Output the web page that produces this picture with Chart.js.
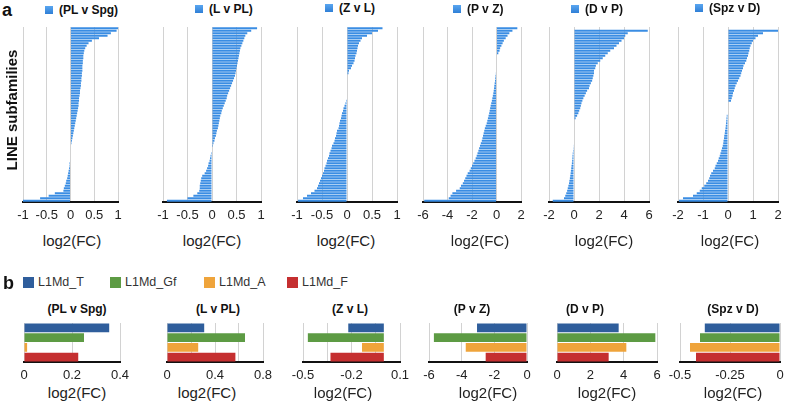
<!DOCTYPE html>
<html>
<head>
<meta charset="utf-8">
<script src="https://cdn.jsdelivr.net/npm/chart.js@4/dist/chart.umd.min.js"></script>
<style>
  html, body { margin:0; padding:0; background:#fff; width:785px; height:403px; overflow:hidden; }
  body { position:relative; font-family:'Liberation Sans', Arial, Helvetica, sans-serif; color:#222; }
  canvas { position:absolute; }
  .t { position:absolute; white-space:nowrap; }
  .sq { position:absolute; }
</style>
</head>
<body>
<script>
// ---------------- DATA ----------------
// Panel a: LINE subfamilies, log2(FC), sorted (70 subfamilies each)
const pLvSpg = [1.0,0.97,0.85,0.78,0.6,0.45,0.38,0.34,0.31,0.29,
  0.28,0.27,0.27,0.26,0.26,0.25,0.25,0.25,0.24,0.24,
  0.23,0.23,0.22,0.22,0.21,0.2,0.2,0.19,0.18,0.18,
  0.17,0.17,0.16,0.15,0.14,0.13,0.12,0.11,0.1,0.09,
  0.08,0.07,0.06,0.05,0.04,0.03,0.02,
  0,0,0,0,0,0,
  -0.01,-0.02,-0.02,-0.03,-0.04,-0.05,-0.06,-0.07,-0.09,-0.1,-0.12,-0.14,-0.15,-0.33,-0.46,-0.64,-1.0];
const pLvPL = [0.92,0.8,0.72,0.68,0.66,0.64,0.62,0.6,0.58,0.57,
  0.56,0.55,0.54,0.53,0.52,0.51,0.5,0.49,0.48,0.47,
  0.45,0.43,0.41,0.39,0.37,0.35,0.33,0.31,0.3,0.28,
  0.26,0.24,0.22,0.2,0.19,0.17,0.16,0.15,0.14,0.13,
  0.12,0.1,0.09,0.08,0.06,0.05,0.03,0.02,
  0,0,
  -0.02,-0.03,-0.04,-0.05,-0.07,-0.08,-0.1,-0.12,-0.15,-0.2,
  -0.22,-0.23,-0.24,-0.25,-0.25,-0.26,-0.3,-0.38,-0.5,-0.92];
const pZvL = [0.71,0.62,0.5,0.4,0.3,0.27,0.24,0.22,0.21,0.2,
  0.19,0.17,0.16,0.15,0.13,0.1,0.08,0.04,0.03,
  0,0,0,0,0,0,0,0,0,
  -0.01,-0.02,-0.03,-0.05,-0.07,-0.08,-0.1,-0.11,-0.12,-0.14,
  -0.15,-0.16,-0.17,-0.2,-0.21,-0.22,-0.24,-0.25,-0.27,-0.3,
  -0.31,-0.33,-0.35,-0.36,-0.38,-0.4,-0.41,-0.43,-0.45,-0.46,
  -0.48,-0.5,-0.52,-0.54,-0.56,-0.58,-0.6,-0.65,-0.72,-0.8,-0.88,-0.98];
const pPvZ = [1.7,1.3,1.05,0.9,0.75,0.6,0.5,0.4,0.3,0.25,0.15,
  0,0,0,0,0,0,0,
  -0.05,-0.08,-0.1,-0.12,-0.15,-0.18,-0.2,-0.23,-0.26,-0.3,
  -0.34,-0.38,-0.43,-0.48,-0.52,-0.56,-0.6,-0.65,-0.7,-0.75,
  -0.8,-0.88,-0.95,-1.0,-1.05,-1.1,-1.15,-1.2,-1.28,-1.35,
  -1.42,-1.48,-1.55,-1.62,-1.7,-1.8,-1.9,-2.0,-2.1,-2.2,
  -2.35,-2.45,-2.55,-2.65,-2.75,-2.9,-3.0,-3.3,-3.6,-3.75,-3.9,-5.9];
const pDvP = [0,
  5.9,4.3,4.1,4.0,3.8,3.6,3.4,3.2,2.9,2.7,
  2.5,2.3,2.1,1.9,1.75,1.7,1.6,1.6,1.55,1.5,
  1.45,1.35,1.25,1.2,1.05,0.95,0.85,0.75,0.67,0.6,
  0.55,0.5,0.42,0.35,0.25,0.13,
  0,0,0,0,0,0,0,0,0,0,
  -0.05,-0.06,-0.08,-0.1,-0.12,-0.13,-0.15,-0.17,-0.2,-0.22,
  -0.25,-0.27,-0.3,-0.33,-0.37,-0.4,-0.45,-0.5,-0.55,-0.62,-0.7,-0.8,-1.7];
const pSpzvD = [0,
  2.0,1.4,1.2,1.1,1.0,0.95,0.9,0.87,0.85,0.82,
  0.8,0.76,0.73,0.68,0.62,0.6,0.56,0.53,0.5,0.45,
  0.4,0.35,0.3,0.27,0.24,0.2,0.18,0.15,0.12,
  0,0,0,0,0,
  -0.05,-0.06,-0.07,-0.08,-0.09,-0.1,-0.12,-0.13,-0.15,-0.16,
  -0.18,-0.19,-0.21,-0.24,-0.27,-0.3,-0.33,-0.37,-0.4,-0.45,
  -0.5,-0.53,-0.6,-0.67,-0.72,-0.75,-0.8,-0.87,-0.95,-1.05,
  -1.13,-1.25,-1.4,-1.8,-1.96];

const comparisons = ['(PL v Spg)','(L v PL)','(Z v L)','(P v Z)','(D v P)','(Spz v D)'];

// Panel b: L1Md subfamilies
const l1Families = ['L1Md_T','L1Md_Gf','L1Md_A','L1Md_F'];
const l1Colors = ['#2f5e9c','#5d9b44','#efa43b','#c52f30'];
const bPLvSpg = [0.355, 0.25, 0.013, 0.226];
const bLvPL   = [0.31, 0.65, 0.26, 0.57];
const bZvL    = [-0.22, -0.47, -0.135, -0.33];
const bPvZ    = [-3.06, -5.7, -3.75, -2.53];
const bDvP    = [3.7, 5.9, 4.16, 3.1];
const bSpzvD  = [-0.376, -0.40, -0.45, -0.42];

// Axis settings (min, max, step)
const topAxes = [[-1,1,0.5],[-1,1,0.5],[-1,1,0.5],[-6,2,2],[-2,6,2],[-2,2,1]];
const botAxes = [[0,0.4,0.2,false],[0,0.8,0.2,true],[-0.5,0.1,0.15,true],[-6,0,2,false],[0,6,2,false],[-0.5,0,0.25,false]];
// --------------------------------------

const FONT = "'Liberation Sans', Arial, Helvetica, sans-serif";
const fmt = v => String(Number(v.toFixed(4)));

function addText(txt, x, y, opts) {
  const d = document.createElement('div');
  d.className = 't';
  d.textContent = txt;
  d.style.left = x + 'px';
  d.style.top = y + 'px';
  Object.assign(d.style, opts || {});
  document.body.appendChild(d);
  return d;
}
function addCentered(txt, cx, cy, size, bold, color) {
  const d = addText(txt, 0, 0, {fontSize: size + 'px', fontWeight: bold ? 'bold' : 'normal', color: color || '#222', lineHeight: size + 'px'});
  const w = d.getBoundingClientRect().width;
  d.style.left = (cx - w / 2) + 'px';
  d.style.top = (cy - size / 2) + 'px';
}
function addSquare(x, y, s, color) {
  const d = document.createElement('div');
  d.className = 'sq';
  d.style.left = x + 'px'; d.style.top = y + 'px';
  d.style.width = s + 'px'; d.style.height = s + 'px';
  d.style.background = color;
  document.body.appendChild(d);
}

function makeChart(cfg) {
  const padL = cfg.padL, padR = cfg.padR, padT = cfg.padT;
  const W = (cfg.R - cfg.L) + padL + padR;
  const H = (cfg.B - cfg.T) + padT + cfg.axisH;
  const c = document.createElement('canvas');
  c.width = W; c.height = H;
  c.style.left = (cfg.L - padL) + 'px';
  c.style.top = (cfg.T - padT) + 'px';
  c.style.width = W + 'px'; c.style.height = H + 'px';
  document.body.appendChild(c);
  new Chart(c, {
    type: 'bar',
    data: {
      labels: cfg.values.map((_, i) => String(i + 1)),
      datasets: [{
        data: cfg.values,
        backgroundColor: cfg.colors,
        borderWidth: 0,
        barPercentage: cfg.barPct,
        categoryPercentage: 1
      }]
    },
    options: {
      indexAxis: 'y',
      responsive: false,
      animation: false,
      devicePixelRatio: 1,
      layout: { padding: { left: padL, right: padR, top: padT, bottom: 0 } },
      plugins: { legend: { display: false }, tooltip: { enabled: false }, title: { display: false } },
      scales: {
        y: { display: false },
        x: {
          min: cfg.min, max: cfg.max,
          grid: { color: '#d2d2d2', lineWidth: 1, drawTicks: false },
          border: { display: true, color: '#111', width: 2 },
          ticks: {
            stepSize: cfg.step, autoSkip: false, maxRotation: 0, padding: 6,
            color: '#222', font: { size: 13, family: FONT },
            callback: (v, i) => (cfg.alt && i % 2 === 1) ? '' : fmt(v)
          },
          afterFit: s => { s.height = cfg.axisH; s.paddingLeft = 0; s.paddingRight = 0; }
        }
      }
    }
  });
}

// ---------- Panel a ----------
const topData = [pLvSpg, pLvPL, pZvL, pPvZ, pDvP, pSpzvD];
const topLR = [[23,118],[163,261],[297,397],[423,521],[549,649],[678,778]];
const topLegendSq = [45,195,325,453,571,695];
const topLegendY = [10,9,8,9,9,8];
const topXlabel = [72,212,346,480,604,730];

topData.forEach((vals, k) => {
  makeChart({
    L: topLR[k][0], R: topLR[k][1], T: 27, B: 202,
    padL: 14, padR: k === 5 ? 6 : 14, padT: 6, axisH: 28,
    min: topAxes[k][0], max: topAxes[k][1], step: topAxes[k][2], alt: false,
    values: vals, colors: '#3a8de3', barPct: 0.8
  });
  addSquare(topLegendSq[k], topLegendY[k] - 4, 8, 'linear-gradient(#5aa6f0,#2f7fd6)');
  addText(comparisons[k], topLegendSq[k] + 14, topLegendY[k] - 7, {fontSize: '12px', fontWeight: 'bold', color: '#111', lineHeight: '14px'});
  addCentered('log2(FC)', topXlabel[k], 240, 15, false, '#222');
});

addText('a', 2, 1, {fontSize: '18px', fontWeight: 'bold', color: '#111', lineHeight: '18px'});
const yt = addText('LINE subfamilies', 0, 0, {fontSize: '15px', fontWeight: 'bold', color: '#111', lineHeight: '16px'});
{
  const w = yt.getBoundingClientRect().width;
  yt.style.left = (12 - w / 2) + 'px';
  yt.style.top = (110 - 8) + 'px';
  yt.style.transform = 'rotate(-90deg)';
}

// ---------- Panel b ----------
addText('b', 3, 274, {fontSize: '18px', fontWeight: 'bold', color: '#111', lineHeight: '18px'});
const legX = [23, 110, 204, 287];
l1Families.forEach((name, i) => {
  addSquare(legX[i], 277, 11, l1Colors[i]);
  addText(name, legX[i] + 15, 275, {fontSize: '12.5px', color: '#333', lineHeight: '14px'});
});

const botData = [bPLvSpg, bLvPL, bZvL, bPvZ, bDvP, bSpzvD];
const botLR = [[24,120],[167,263],[303,400],[429,527],[557,657],[680,780]];
const botTitleX = [77,218,350,472,585,733];
const botXlabel = [77,207,343,488,607,733];
botData.forEach((vals, k) => {
  makeChart({
    L: botLR[k][0], R: botLR[k][1], T: 323, B: 362,
    padL: 14, padR: k === 5 ? 4 : 14, padT: 4, axisH: 20,
    min: botAxes[k][0], max: botAxes[k][1], step: botAxes[k][2], alt: botAxes[k][3],
    values: vals, colors: l1Colors, barPct: 0.9
  });
  addCentered(comparisons[k], botTitleX[k], 309, 12, true, '#111');
  addCentered('log2(FC)', botXlabel[k], 392, 15, false, '#222');
});
</script>
</body>
</html>
